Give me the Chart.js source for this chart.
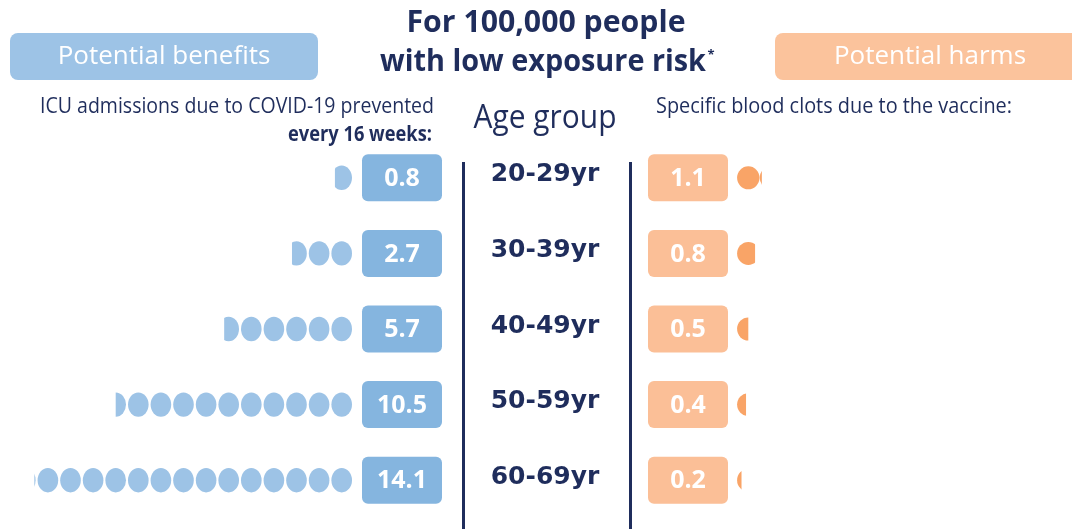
<!DOCTYPE html>
<html>
<head>
<meta charset="utf-8">
<script src="https://cdn.jsdelivr.net/npm/chart.js@4"></script>
<style>
  html, body { margin: 0; padding: 0; background: #fff; }
  #wrap { width: 1072px; height: 529px; position: relative; }
</style>
</head>
<body>
<div id="wrap"><canvas id="chart"></canvas></div>
<script>
const ageGroups = ['20-29yr', '30-39yr', '40-49yr', '50-59yr', '60-69yr'];
const icuPrevented = [0.8, 2.7, 5.7, 10.5, 14.1];
const bloodClots = [1.1, 0.8, 0.5, 0.4, 0.2];

const NAVY = '#1f2d5c';
const BLUE_DOT = '#9dc3e6';
const BLUE_BOX = '#85b5df';
const ORANGE_DOT = '#f9a467';
const ORANGE_BOX = '#fbbf97';
const PITCH = 22.6;           // px per unit on both sides
const LEFT_ZERO = 353;
const RIGHT_ZERO = 737;
const W = 1072;

function roundRect(ctx, x, y, w, h, r, fill) {
  ctx.beginPath();
  ctx.roundRect(x, y, w, h, r);
  ctx.fillStyle = fill;
  ctx.fill();
}

const infographic = {
  id: 'infographic',
  beforeDraw(chart) {
    const ctx = chart.ctx;
    const top = chart.chartArea.top;
    ctx.save();
    ctx.textBaseline = 'middle';

    // heading
    ctx.fillStyle = NAVY;
    ctx.textAlign = 'center';
    ctx.font = 'bold 31px "Open Sans", sans-serif';
    ctx.fillText('For 100,000 people', 546, 23, 279);
    ctx.fillText('with low exposure risk', 543, 62, 326);
    ctx.font = 'bold 13px "Open Sans", sans-serif';
    ctx.fillText('*', 711, 55);

    // side buttons
    roundRect(ctx, 10, 33, 308, 47, 8, BLUE_DOT);
    roundRect(ctx, 775, 33, 310, 47, 8, '#fbc39c');
    ctx.fillStyle = '#fff';
    ctx.font = '26px "Open Sans", sans-serif';
    ctx.fillText('Potential benefits', 164, 57, 218);
    ctx.fillText('Potential harms', 930, 57, 196);

    // column subtitles
    ctx.fillStyle = NAVY;
    ctx.textAlign = 'right';
    ctx.font = '21px "Open Sans", sans-serif';
    ctx.fillText('ICU admissions due to COVID-19 prevented', 434, 107, 394);
    ctx.font = 'bold 21px "Open Sans", sans-serif';
    ctx.fillText('every 16 weeks:', 432, 135, 144);
    ctx.textAlign = 'left';
    ctx.font = '21px "Open Sans", sans-serif';
    ctx.fillText('Specific blood clots due to the vaccine:', 656, 107, 356);
    ctx.textAlign = 'center';
    ctx.font = '33px "Open Sans", sans-serif';
    ctx.fillText('Age group', 545, 119, 143);

    // divider lines
    ctx.strokeStyle = NAVY;
    ctx.lineWidth = 3;
    ctx.beginPath();
    ctx.moveTo(463.5, top + 22); ctx.lineTo(463.5, chart.height);
    ctx.moveTo(630.5, top + 22); ctx.lineTo(630.5, chart.height);
    ctx.stroke();
    ctx.restore();
  },
  afterDatasetsDraw(chart) {
    const ctx = chart.ctx;
    const yScale = chart.scales.y;
    ctx.save();
    chart.data.datasets.forEach((ds, di) => {
      const meta = chart.getDatasetMeta(di);
      const xScale = chart.scales[ds.xAxisID];
      const base0 = xScale.getPixelForValue(0);
      const pitch = Math.abs(xScale.getPixelForValue(1) - base0);
      const dir = xScale.options.reverse ? -1 : 1;
      meta.data.forEach((bar, i) => {
        const p = bar.getProps(['x', 'y', 'base'], true);
        const value = ds.data[i];
        // dots, clipped to the bar's length
        ctx.save();
        ctx.beginPath();
        ctx.rect(Math.min(p.x, p.base), p.y - 16, Math.abs(p.x - p.base), 32);
        ctx.clip();
        ctx.fillStyle = ds.dotColor;
        for (let k = 0; k < Math.ceil(value); k++) {
          const cx = p.base + dir * (k + 0.5) * pitch;
          ctx.beginPath();
          ctx.ellipse(cx, p.y, ds.dotRx, ds.dotRy, 0, 0, Math.PI * 2);
          ctx.fill();
        }
        ctx.restore();
        // value box on the other side of zero
        const bx = dir < 0 ? base0 + 9 : base0 - 89;
        roundRect(ctx, bx, p.y - 23.5, 80, 47, 6, ds.boxColor);
        ctx.fillStyle = '#fff';
        ctx.textAlign = 'center';
        ctx.textBaseline = 'middle';
        ctx.font = 'bold 25px "Open Sans", sans-serif';
        ctx.fillText(value.toFixed(1), bx + 40, p.y + 1);
      });
    });
    // age group labels
    ctx.fillStyle = NAVY;
    ctx.font = 'bold 25px "DejaVu Sans", sans-serif';
    ctx.textAlign = 'center';
    ctx.textBaseline = 'middle';
    chart.data.labels.forEach((lab, i) => {
      ctx.fillText(lab, 545, yScale.getPixelForValue(i) - 3, 110);
    });
    ctx.restore();
  }
};

new Chart(document.getElementById('chart'), {
  type: 'bar',
  data: {
    labels: ageGroups,
    datasets: [
      {
        label: 'ICU admissions prevented',
        data: icuPrevented,
        xAxisID: 'xL',
        backgroundColor: 'rgba(0,0,0,0)',
        dotColor: BLUE_DOT,
        boxColor: BLUE_BOX,
        dotRx: 10.3,
        dotRy: 12.2,
        grouped: false,
        barThickness: 26
      },
      {
        label: 'Blood clots',
        data: bloodClots,
        xAxisID: 'xR',
        backgroundColor: 'rgba(0,0,0,0)',
        dotColor: ORANGE_DOT,
        boxColor: ORANGE_BOX,
        dotRx: 11.2,
        dotRy: 11.5,
        grouped: false,
        barThickness: 26
      }
    ]
  },
  options: {
    indexAxis: 'y',
    animation: false,
    responsive: true,
    maintainAspectRatio: false,
    layout: { padding: { top: 140, bottom: 11, left: 0, right: 0 } },
    plugins: {
      legend: { display: false },
      tooltip: { enabled: false },
      title: { display: false }
    },
    scales: {
      y: { type: 'category', display: false, offset: true },
      xL: {
        type: 'linear', display: false, reverse: true,
        min: -(W - LEFT_ZERO) / PITCH, max: LEFT_ZERO / PITCH
      },
      xR: {
        type: 'linear', display: false,
        min: -RIGHT_ZERO / PITCH, max: (W - RIGHT_ZERO) / PITCH
      }
    }
  },
  plugins: [infographic]
});
</script>
</body>
</html>
